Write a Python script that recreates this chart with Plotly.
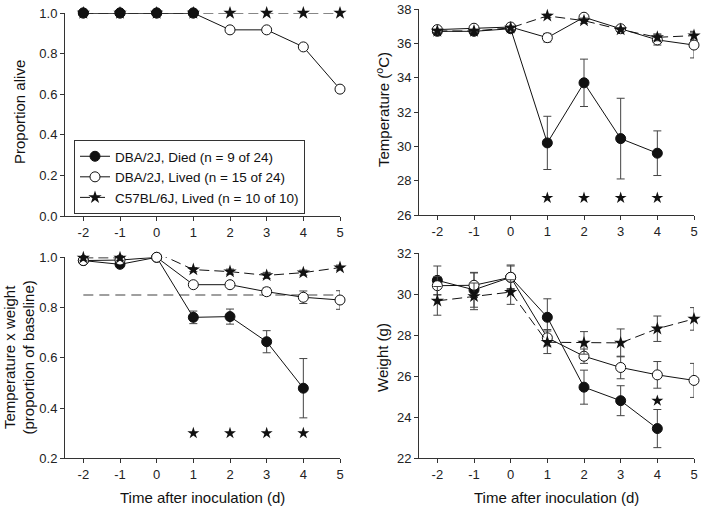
import plotly.graph_objects as go

# ---------------- data ----------------
days_all = [-2, -1, 0, 1, 2, 3, 4, 5]
days_died = [-2, -1, 0, 1, 2, 3, 4]
days_died_alive = [-2, -1, 0, 1]
sig_days = [1, 2, 3, 4]

names = ["DBA/2J, Died (n = 9 of 24)",
         "DBA/2J, Lived (n = 15 of 24)",
         "C57BL/6J, Lived (n = 10 of 10)"]

# Proportion alive
alive_died = [1.0, 1.0, 1.0, 1.0]
alive_lived = [1.0, 1.0, 1.0, 1.0, 0.917, 0.917, 0.833, 0.625]
alive_c57 = [1.0, 1.0, 1.0, 1.0, 1.0, 1.0, 1.0, 1.0]

# Temperature (C)
temp_died = [36.7, 36.7, 36.85, 30.2, 33.7, 30.45, 29.6]
temp_died_err = [0.1, 0.1, 0.1, 1.55, 1.38, 2.35, 1.3]
temp_lived = [36.8, 36.88, 36.95, 36.33, 37.52, 36.85, 36.2, 35.9]
temp_lived_err = [0.1, 0.1, 0.1, 0.25, 0.1, 0.15, 0.3, 0.75]
temp_c57 = [36.72, 36.72, 36.9, 37.6, 37.32, 36.8, 36.35, 36.45]
temp_c57_err = [0.1, 0.1, 0.1, 0.1, 0.15, 0.1, 0.2, 0.25]
temp_sig = [27.0, 27.0, 27.0, 27.0]

# Temperature x weight (proportion of baseline)
tw_died = [0.987, 0.972, 1.0, 0.761, 0.764, 0.664, 0.479]
tw_died_err = [0.01, 0.01, 0.005, 0.025, 0.03, 0.044, 0.118]
tw_lived = [0.987, 0.989, 1.0, 0.891, 0.891, 0.863, 0.841, 0.83]
tw_lived_err = [0.01, 0.01, 0.005, 0.005, 0.005, 0.015, 0.025, 0.037]
tw_c57 = [0.998, 0.998, 1.018, 0.951, 0.943, 0.928, 0.939, 0.959]
tw_c57_err = [0.01, 0.01, 0.005, 0.008, 0.01, 0.012, 0.01, 0.01]
tw_threshold = [0.85, 0.85]
tw_threshold_x = [-2, 5]
tw_sig = [0.3, 0.3, 0.3, 0.3]

# Weight (g)
wt_died = [30.68, 30.22, 30.83, 28.88, 25.47, 24.81, 23.45]
wt_died_err = [0.7, 0.85, 0.6, 0.9, 0.83, 0.73, 0.93]
wt_lived = [30.42, 30.44, 30.83, 27.88, 26.98, 26.43, 26.07, 25.8]
wt_lived_err = [0.45, 0.6, 0.55, 0.4, 0.35, 0.55, 0.65, 0.83]
wt_c57 = [29.68, 29.9, 30.11, 27.66, 27.63, 27.63, 28.32, 28.8]
wt_c57_err = [0.7, 0.65, 0.6, 0.55, 0.55, 0.68, 0.62, 0.55]
wt_sig_days = [4]
wt_sig = [24.81]

# ---------------- styling ----------------
FONT = "Arial, Liberation Sans, sans-serif"
INK = "#111111"
AX = "#333333"
ERR = dict(type="data", visible=True, color="#444444", thickness=1, width=4)


def err(vals):
    d = dict(ERR)
    d["array"] = vals
    return d


def died(x, y, xa, ya, e=None, legend=False):
    return go.Scatter(x=x, y=y, xaxis=xa, yaxis=ya, mode="lines+markers",
                      name=names[0], showlegend=legend, legendrank=1,
                      line=dict(color=INK, width=1),
                      marker=dict(symbol="circle", size=10, color=INK,
                                  line=dict(color=INK, width=1)),
                      error_y=err(e) if e else None, cliponaxis=False)


def lived(x, y, xa, ya, e=None, legend=False):
    return go.Scatter(x=x, y=y, xaxis=xa, yaxis=ya, mode="lines+markers",
                      name=names[1], showlegend=legend, legendrank=2,
                      line=dict(color=INK, width=1),
                      marker=dict(symbol="circle", size=10, color="white",
                                  line=dict(color=INK, width=1)),
                      error_y=err(e) if e else None, cliponaxis=False)


def c57(x, y, xa, ya, e=None, legend=False):
    return go.Scatter(x=x, y=y, xaxis=xa, yaxis=ya, mode="lines+markers",
                      name=names[2], showlegend=legend, legendrank=3,
                      line=dict(color=INK, width=1, dash="10px,5px"),
                      marker=dict(symbol="star", size=10, color=INK,
                                  line=dict(color=INK, width=0)),
                      error_y=err(e) if e else None, cliponaxis=False)


def sig(x, y, xa, ya):
    return go.Scatter(x=x, y=y, xaxis=xa, yaxis=ya, mode="markers",
                      showlegend=False,
                      marker=dict(symbol="star", size=9, color=INK),
                      cliponaxis=False)


fig = go.Figure()

# Panel 1: proportion alive
fig.add_trace(lived(days_all, alive_lived, "x", "y", legend=True))
fig.add_trace(died(days_died_alive, alive_died, "x", "y", legend=True))
fig.add_trace(c57(days_all, alive_c57, "x", "y", legend=True))

# Panel 2: temperature
fig.add_trace(died(days_died, temp_died, "x2", "y2", temp_died_err))
fig.add_trace(lived(days_all, temp_lived, "x2", "y2", temp_lived_err))
fig.add_trace(c57(days_all, temp_c57, "x2", "y2", temp_c57_err))
fig.add_trace(sig(sig_days, temp_sig, "x2", "y2"))

# Panel 3: temperature x weight
fig.add_trace(go.Scatter(x=tw_threshold_x, y=tw_threshold, xaxis="x3", yaxis="y3",
                         mode="lines", showlegend=False,
                         line=dict(color="#808080", width=1.5, dash="10px,6px")))
fig.add_trace(died(days_died, tw_died, "x3", "y3", tw_died_err))
fig.add_trace(lived(days_all, tw_lived, "x3", "y3", tw_lived_err))
fig.add_trace(c57(days_all, tw_c57, "x3", "y3", tw_c57_err))
fig.add_trace(sig(sig_days, tw_sig, "x3", "y3"))

# Panel 4: weight
fig.add_trace(died(days_died, wt_died, "x4", "y4", wt_died_err))
fig.add_trace(lived(days_all, wt_lived, "x4", "y4", wt_lived_err))
fig.add_trace(c57(days_all, wt_c57, "x4", "y4", wt_c57_err))
fig.add_trace(sig(wt_sig_days, wt_sig, "x4", "y4"))

W, H = 704, 508
LX = [65 / W, 340 / W]
RX = [419 / W, 694 / W]


def xax(anchor, dom):
    return dict(domain=dom, anchor=anchor, range=[-2.5, 5], tickmode="array",
                tickvals=days_all, ticktext=[str(d) for d in days_all],
                showline=True, linecolor=AX, linewidth=1, ticks="outside",
                ticklen=4, tickcolor=AX, showgrid=False, zeroline=False,
                automargin=False,
                tickfont=dict(size=13, color="#222222", family=FONT))


def yax(anchor, dom, rng, dtick, fmt):
    return dict(domain=dom, anchor=anchor, range=rng, dtick=dtick, tick0=rng[0],
                tickformat=fmt, showline=True, linecolor=AX, linewidth=1,
                ticks="outside", ticklen=4, tickcolor=AX, showgrid=False,
                zeroline=False, automargin=False,
                tickfont=dict(size=13, color="#222222", family=FONT))


fig.update_layout(
    width=W, height=H, autosize=False,
    margin=dict(l=0, r=0, t=0, b=0, pad=0, autoexpand=False),
    paper_bgcolor="white", plot_bgcolor="white",
    font=dict(family=FONT, color="#111111"),
    xaxis=xax("y", LX),
    yaxis=yax("x", [(H - 216) / H, (H - 13) / H], [0, 1.0], 0.2, ".1f"),
    xaxis2=xax("y2", RX),
    yaxis2=yax("x2", [(H - 215) / H, (H - 9) / H], [26, 38], 2, "d"),
    xaxis3=xax("y3", LX),
    yaxis3=yax("x3", [(H - 458.3) / H, (H - 257.3) / H], [0.2, 1.0], 0.2, ".1f"),
    xaxis4=xax("y4", RX),
    yaxis4=yax("x4", [(H - 458.3) / H, (H - 253.3) / H], [22, 32], 2, "d"),
    legend=dict(x=74 / W, y=(H - 140) / H, xanchor="left", yanchor="top",
                bordercolor=AX, borderwidth=1, bgcolor="white",
                font=dict(size=13.5, family=FONT, color="#111111"),
                traceorder="normal", tracegroupgap=0),
    showlegend=True,
)

title_font = dict(size=15, family=FONT, color="#111111")
annots = [
    dict(text="Proportion alive", x=19 / W, y=(H - 112) / H),
    dict(text="Temperature (<sup>o</sup>C)", x=383 / W, y=(H - 110) / H),
    dict(text="Temperature x weight<br>(proportion of baseline)", x=19 / W,
         y=(H - 357.5) / H),
    dict(text="Weight (g)", x=382 / W, y=(H - 358) / H),
]
for a in annots:
    fig.add_annotation(xref="paper", yref="paper", textangle=-90, showarrow=False,
                       xanchor="center", yanchor="middle", font=title_font, **a)
for cx in [202.5, 556.5]:
    fig.add_annotation(text="Time after inoculation (d)", xref="paper", yref="paper",
                       x=cx / W, y=(H - 497) / H, showarrow=False, xanchor="center",
                       yanchor="middle", font=title_font)

fig.write_html(
    "out.html",
    config={"displayModeBar": False},
    post_script="document.body.style.margin='0';document.body.style.overflow='hidden';",
)
